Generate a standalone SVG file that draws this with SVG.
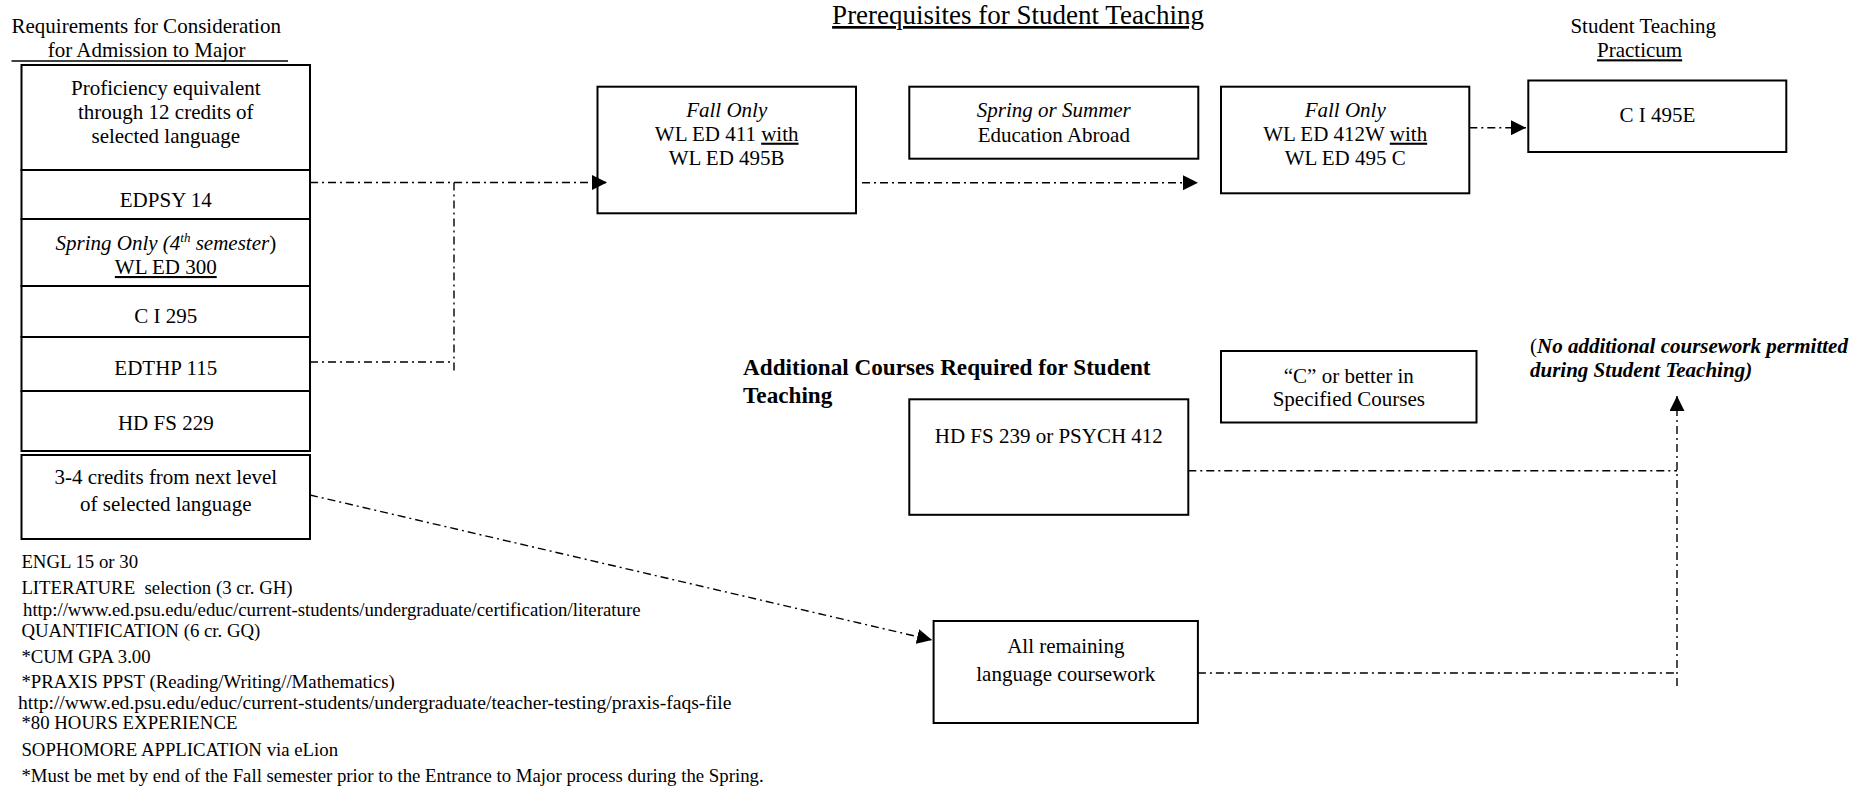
<svg xmlns="http://www.w3.org/2000/svg" width="1874" height="791" viewBox="0 0 1874 791">
<style>
text{font-family:"Liberation Serif","Times New Roman",serif;fill:#000;}
.t{font-size:21px;}
.c{text-anchor:middle;}
.i{font-style:italic;}
.u{text-decoration:underline;}
.s{font-size:18.8px;}
.box{fill:#fff;stroke:#000;stroke-width:2;}
.con{fill:none;stroke:#000;stroke-width:1.4;stroke-dasharray:8 4 2 4;}
.ln{stroke:#000;stroke-width:1.3;}
</style>
<defs>
<marker id="ah" markerUnits="userSpaceOnUse" markerWidth="15" markerHeight="15" refX="15" refY="7.5" orient="auto">
<path d="M0,0 L15,7.5 L0,15 z" fill="#000"/>
</marker>
</defs>
<rect width="1874" height="791" fill="#fff"/>

<g id="headings">
<text class="t" x="11.5" y="33">Requirements for Consideration</text>
<text class="t" x="47.8" y="57">for Admission to Major</text>
<line class="ln" x1="11.5" y1="61" x2="288" y2="61"/>
<text x="1018" y="24" font-size="27" class="c u">Prerequisites for Student Teaching</text>
<text class="t" x="1570.4" y="33.3">Student Teaching</text>
<text class="t u" x="1597" y="57.3">Practicum</text>
<text x="743" y="375" font-weight="bold" font-size="23.2">Additional Courses Required for Student</text>
<text x="743" y="403.3" font-weight="bold" font-size="23.2">Teaching</text>
<text class="t" x="1530" y="353">(<tspan font-weight="bold" font-style="italic">No additional coursework permitted</tspan></text>
<text class="t" x="1530" y="377" font-weight="bold" font-style="italic">during Student Teaching)</text>
</g>

<g id="n-proficiency">
<rect class="box" x="21.5" y="65" width="288.5" height="105"/>
<text class="t c" x="165.8" y="95">Proficiency equivalent</text>
<text class="t c" x="165.8" y="119">through 12 credits of</text>
<text class="t c" x="165.8" y="143">selected language</text>
</g>
<g id="n-edpsy14">
<rect class="box" x="21.5" y="170" width="288.5" height="49"/>
<text class="t c" x="165.8" y="207">EDPSY 14</text>
</g>
<g id="n-wled300">
<rect class="box" x="21.5" y="219" width="288.5" height="67"/>
<text class="t c" x="165.8" y="250"><tspan class="i">Spring Only (4</tspan><tspan class="i" font-size="13" dy="-8">th</tspan><tspan class="i" dy="8"> semester</tspan>)</text>
<text class="t c u" x="165.8" y="274">WL ED 300</text>
</g>
<g id="n-ci295">
<rect class="box" x="21.5" y="286" width="288.5" height="51"/>
<text class="t c" x="165.8" y="323">C I 295</text>
</g>
<g id="n-edthp115">
<rect class="box" x="21.5" y="337" width="288.5" height="54"/>
<text class="t c" x="165.8" y="375">EDTHP 115</text>
</g>
<g id="n-hdfs229">
<rect class="box" x="21.5" y="391" width="288.5" height="60"/>
<text class="t c" x="165.8" y="429.5">HD FS 229</text>
</g>
<g id="n-credits">
<rect class="box" x="21.5" y="455" width="288.5" height="84"/>
<text class="t c" x="165.8" y="484">3-4 credits from next level</text>
<text class="t c" x="165.8" y="511">of selected language</text>
</g>

<g id="notes">
<text class="s" x="21.4" y="568">ENGL 15 or 30</text>
<text class="s" x="21.4" y="594" xml:space="preserve">LITERATURE  selection (3 cr. GH)</text>
<text class="s" x="23" y="616">http://www.ed.psu.edu/educ/current-students/undergraduate/certification/literature</text>
<text class="s" x="21.4" y="637">QUANTIFICATION (6 cr. GQ)</text>
<text class="s" x="21.4" y="663">*CUM GPA 3.00</text>
<text class="s" x="21.4" y="688">*PRAXIS PPST (Reading/Writing//Mathematics)</text>
<text x="18" y="709" style="font-size:19.6px">http://www.ed.psu.edu/educ/current-students/undergraduate/teacher-testing/praxis-faqs-file</text>
<text class="s" x="21.4" y="729">*80 HOURS EXPERIENCE</text>
<text class="s" x="21.4" y="756">SOPHOMORE APPLICATION via eLion</text>
<text class="s" x="21.4" y="782">*Must be met by end of the Fall semester prior to the Entrance to Major process during the Spring.</text>
</g>

<g id="n-wled411">
<rect class="box" x="597.5" y="86.7" width="258.5" height="126.6"/>
<text class="t c i" x="726.7" y="116.7">Fall Only</text>
<text class="t c" x="726.7" y="140.7">WL ED 411 <tspan class="u">with</tspan></text>
<text class="t c" x="726.7" y="165">WL ED 495B</text>
</g>
<g id="n-abroad">
<rect class="box" x="909.3" y="86.7" width="289" height="72"/>
<text class="t c i" x="1053.8" y="116.7">Spring or Summer</text>
<text class="t c" x="1053.8" y="141.7">Education Abroad</text>
</g>
<g id="n-wled412w">
<rect class="box" x="1221" y="86.7" width="248.3" height="106.6"/>
<text class="t c i" x="1345.2" y="116.7">Fall Only</text>
<text class="t c" x="1345.2" y="140.7">WL ED 412W <tspan class="u">with</tspan></text>
<text class="t c" x="1345.2" y="165">WL ED 495 C</text>
</g>
<g id="n-ci495e">
<rect class="box" x="1528.3" y="80.5" width="258" height="71.5"/>
<text class="t c" x="1657.3" y="121.7">C I 495E</text>
</g>
<g id="n-cbetter">
<rect class="box" x="1221" y="351" width="255.5" height="71.5"/>
<text class="t c" x="1348.8" y="383">“C” or better in</text>
<text class="t c" x="1348.8" y="406">Specified Courses</text>
</g>
<g id="n-hdfs239">
<rect class="box" x="909.3" y="399.3" width="279" height="115.5"/>
<text class="t c" x="1048.8" y="443.3">HD FS 239 or PSYCH 412</text>
</g>
<g id="n-remaining">
<rect class="box" x="933.6" y="621" width="264.3" height="102"/>
<text class="t c" x="1065.8" y="652.7">All remaining</text>
<text class="t c" x="1065.8" y="680.7">language coursework</text>
</g>

<g id="connectors">
<path class="con" d="M310,182.5 H607" marker-end="url(#ah)"/>
<path class="con" d="M454,182.5 V373"/>
<path class="con" d="M310,362 H454"/>
<path class="con" d="M862,182.7 H1198" marker-end="url(#ah)"/>
<path class="con" d="M1469.3,127.7 H1526" marker-end="url(#ah)"/>
<path class="con" d="M310,495 L932,640" marker-end="url(#ah)"/>
<path class="con" d="M1188.3,470.7 H1677"/>
<path class="con" d="M1197.9,673 H1677"/>
<path class="con" d="M1677,686 V396" marker-end="url(#ah)"/>
</g>
</svg>
